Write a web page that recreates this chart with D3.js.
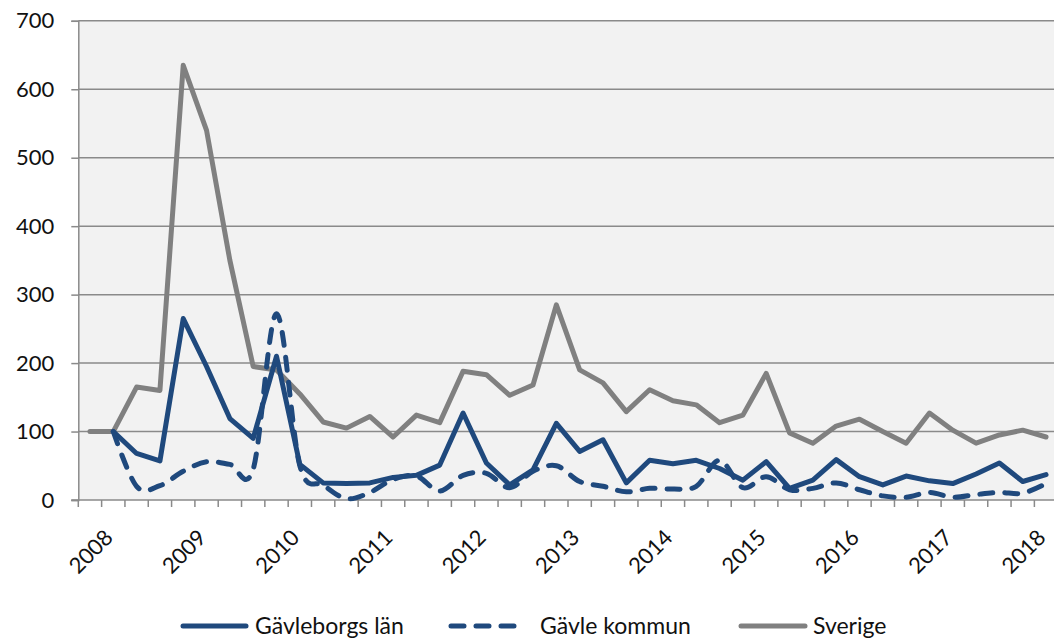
<!DOCTYPE html>
<html>
<head>
<meta charset="utf-8">
<script src="https://cdn.jsdelivr.net/npm/d3@7"></script>
<style>
	body { margin: 0; background: #fff; }
	text { font-family: Lato, "Noto Sans", sans-serif; fill: #111; }
</style>
</head>
<body>
<div id="chart-area"></div>
<script>
// SVG Size
let width = 1054,
	height = 638;

// Quarters, index 0 is the base quarter
let quarters = [
	"2007 K4",
	"2008 K1", "2008 K2", "2008 K3", "2008 K4",
	"2009 K1", "2009 K2", "2009 K3", "2009 K4",
	"2010 K1", "2010 K2", "2010 K3", "2010 K4",
	"2011 K1", "2011 K2", "2011 K3", "2011 K4",
	"2012 K1", "2012 K2", "2012 K3", "2012 K4",
	"2013 K1", "2013 K2", "2013 K3", "2013 K4",
	"2014 K1", "2014 K2", "2014 K3", "2014 K4",
	"2015 K1", "2015 K2", "2015 K3", "2015 K4",
	"2016 K1", "2016 K2", "2016 K3", "2016 K4",
	"2017 K1", "2017 K2", "2017 K3", "2017 K4",
	"2018 K1"
];

let yearTicks = ["2008 K1", "2009 K1", "2010 K1", "2011 K1", "2012 K1", "2013 K1",
	"2014 K1", "2015 K1", "2016 K1", "2017 K1", "2018 K1"];

let yTicks = [0, 100, 200, 300, 400, 500, 600, 700];

let seriesNames = ["Gävleborgs län", "Gävle kommun", "Sverige"];

let gavleborg = [null, 100, 68, 57, 265, 195, 119, 90, 210, 52, 25, 24, 25, 33, 36, 51, 127, 54, 22, 44,
	112, 71, 88, 25, 58, 53, 58, 46, 29, 56, 17, 29, 59, 34, 22, 35, 28, 24, 38, 54, 27, 37];

let gavle = [null, 100, 20, 21, 42, 56, 52, 45, 272, 50, 22, 2, 11, 30, 35, 13, 36, 39, 18, 42,
	50, 27, 20, 12, 17, 16, 20, 58, 18, 34, 15, 17, 25, 15, 6, 4, 11, 4, 8, 11, 10, 24];

let sverige = [100, 100, 165, 160, 635, 540, 350, 195, 190, 155, 114, 105, 122, 92, 124, 113, 188, 183, 153, 168,
	285, 190, 171, 129, 161, 145, 139, 113, 124, 185, 98, 83, 108, 118, 100, 83, 127, 102, 83, 95, 102, 92];

let blue = "#1f497d",
	grey = "#808080",
	gridColor = "#8a8a8a";

let svg = d3.select("#chart-area").append("svg")
	.attr("width", width)
	.attr("height", height);

let plotLeft = 78.3, plotRight = 1057.7, plotTop = 20.8, plotBottom = 500;

let xScale = d3.scaleBand()
	.domain(quarters)
	.range([plotLeft, plotRight])
	.padding(0);

let yScale = d3.scaleLinear()
	.domain([0, 700])
	.range([plotBottom, plotTop]);

let cx = d => xScale(d) + xScale.bandwidth() / 2;

// plot background
svg.append("rect")
	.attr("x", plotLeft)
	.attr("y", plotTop)
	.attr("width", plotRight - plotLeft)
	.attr("height", plotBottom - plotTop)
	.attr("fill", "#f2f2f2");

// gridlines
svg.append("g")
	.selectAll("line")
	.data(yTicks.filter(t => t > 0))
	.enter()
	.append("line")
	.attr("x1", plotLeft)
	.attr("x2", plotRight)
	.attr("y1", d => yScale(d))
	.attr("y2", d => yScale(d))
	.attr("stroke", gridColor)
	.attr("stroke-width", 1.5);

// y axis
let yAxis = d3.axisLeft(yScale)
	.tickValues(yTicks)
	.tickSize(7)
	.tickPadding(17);

let yG = svg.append("g")
	.attr("transform", "translate(" + plotLeft + ",0)")
	.call(yAxis);
yG.select(".domain").attr("stroke", gridColor).attr("stroke-width", 1.5);
yG.selectAll(".tick line").attr("stroke", gridColor).attr("stroke-width", 1.5);
yG.selectAll(".tick text")
	.style("font-size", "22px")
	.style("font-family", "Lato, sans-serif")
	.attr("fill", "#111");

// x axis: labels
let xAxis = d3.axisBottom(xScale)
	.tickValues(yearTicks)
	.tickSize(0)
	.tickFormat(d => d.slice(0, 4));

let xG = svg.append("g")
	.attr("transform", "translate(0," + plotBottom + ")")
	.call(xAxis);
xG.select(".domain").remove();
xG.selectAll(".tick text")
	.style("font-size", "22px")
	.style("font-family", "Lato, sans-serif")
	.attr("fill", "#111")
	.attr("text-anchor", "end")
	.attr("dy", 0)
	.attr("y", 0)
	.attr("transform", "translate(1,39) rotate(-45)");

// x axis line and boundary ticks
svg.append("line")
	.attr("x1", plotLeft - 7)
	.attr("x2", plotRight)
	.attr("y1", plotBottom)
	.attr("y2", plotBottom)
	.attr("stroke", gridColor)
	.attr("stroke-width", 1.5);

svg.append("g")
	.selectAll("line")
	.data(quarters)
	.enter()
	.append("line")
	.attr("x1", d => xScale(d))
	.attr("x2", d => xScale(d))
	.attr("y1", plotBottom)
	.attr("y2", plotBottom + 7)
	.attr("stroke", gridColor)
	.attr("stroke-width", 1.5);

// lines
let straight = d3.line()
	.defined(d => d.v != null)
	.x(d => cx(d.q))
	.y(d => yScale(d.v));

let smooth = d3.line()
	.defined(d => d.v != null)
	.x(d => cx(d.q))
	.y(d => yScale(d.v))
	.curve(d3.curveCatmullRom.alpha(0));

let toPoints = arr => arr.map((v, i) => ({q: quarters[i], v: v}));

svg.append("path")
	.attr("d", straight(toPoints(sverige)))
	.attr("fill", "none")
	.attr("stroke", grey)
	.attr("stroke-width", 5)
	.attr("stroke-linejoin", "round")
	.attr("stroke-linecap", "round");

svg.append("path")
	.attr("d", straight(toPoints(gavleborg)))
	.attr("fill", "none")
	.attr("stroke", blue)
	.attr("stroke-width", 5)
	.attr("stroke-linejoin", "round")
	.attr("stroke-linecap", "round");

svg.append("path")
	.attr("d", smooth(toPoints(gavle)))
	.attr("fill", "none")
	.attr("stroke", blue)
	.attr("stroke-width", 5)
	.attr("stroke-dasharray", "13,12")
	.attr("stroke-linejoin", "round")
	.attr("stroke-linecap", "round");

// legend
let legendItems = [
	{name: seriesNames[0], color: blue, dash: null, x1: 183, x2: 246, tx: 255},
	{name: seriesNames[1], color: blue, dash: "13,12", x1: 451, x2: 526, tx: 540},
	{name: seriesNames[2], color: grey, dash: null, x1: 741, x2: 805, tx: 813}
];

let legend = svg.append("g");
legendItems.forEach(item => {
	legend.append("line")
		.attr("x1", item.x1)
		.attr("x2", item.x2)
		.attr("y1", 626)
		.attr("y2", 626)
		.attr("stroke", item.color)
		.attr("stroke-width", 5)
		.attr("stroke-linecap", "round")
		.attr("stroke-dasharray", item.dash);
	legend.append("text")
		.attr("x", item.tx)
		.attr("y", 634)
		.style("font-size", "23px")
		.text(item.name);
});
</script>
</body>
</html>
